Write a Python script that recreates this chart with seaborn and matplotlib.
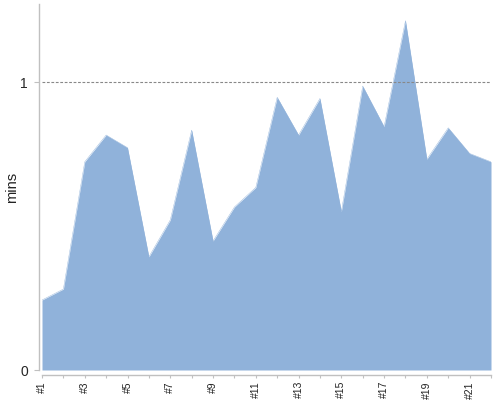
import matplotlib
matplotlib.use("Agg")
import matplotlib.pyplot as plt
import seaborn as sns
import pandas as pd

categories = [f"#{i}" for i in range(1, 23)]
values = [0.243, 0.281, 0.723, 0.816, 0.772, 0.393, 0.521, 0.833, 0.448, 0.566, 0.634,
          0.947, 0.816, 0.943, 0.550, 0.986, 0.845, 1.213, 0.732, 0.841, 0.752, 0.723]
y_ticks = [0, 1]

sns.set_style("white")
plt.rcParams['font.family'] = ['Liberation Sans', 'DejaVu Sans']

df = pd.DataFrame({"pos": range(len(categories)), "cat": categories, "mins": values})

fig = plt.figure(figsize=(5, 4), dpi=100)
ax = fig.add_axes([42 / 500, 30 / 400, 449 / 500, 366 / 400])

color = "#90B2DA"
sns.lineplot(data=df, x="pos", y="mins", ax=ax, color=color, linewidth=0.3)
ax.fill_between(df["pos"], 0, df["mins"], color=color, linewidth=0)

ax.axhline(1, color="#888888", linewidth=0.8, linestyle=(0, (2.5, 1.5)), zorder=3)

ax.set_xlim(0, len(categories) - 1)
ax.set_ylim(0, 1.271)
ax.set_xticks(list(df["pos"]))
ax.set_xticklabels([c if i % 2 == 0 else "" for i, c in enumerate(categories)])
ax.set_yticks(y_ticks)
ax.set_yticklabels([str(t) for t in y_ticks], fontsize=10, color="#333333")
ax.set_xlabel("")
ax.set_ylabel("mins", fontsize=10.5, color="#222222")
ax.yaxis.set_label_coords(-23 / 449, 0.5)

for s in ["top", "right"]:
    ax.spines[s].set_visible(False)
for s in ["left", "bottom"]:
    ax.spines[s].set_color("#c0c0c0")
    ax.spines[s].set_linewidth(1)
ax.spines["left"].set_position(("outward", 2.5))
ax.spines["bottom"].set_position(("outward", 3.5))
ax.tick_params(axis="x", which="both", length=2.5, width=0.8, color="#c0c0c0", pad=2,
               bottom=True)
ax.tick_params(axis="y", which="both", length=3.5, width=0.8, color="#c0c0c0", pad=4, left=True)
for lab in ax.get_xticklabels():
    lab.set_rotation(90)
    lab.set_rotation_mode("anchor")
    lab.set_ha("right")
    lab.set_va("center")
    lab.set_fontsize(7.5)
    lab.set_color("#222222")

fig.savefig("out.png", dpi=100)
